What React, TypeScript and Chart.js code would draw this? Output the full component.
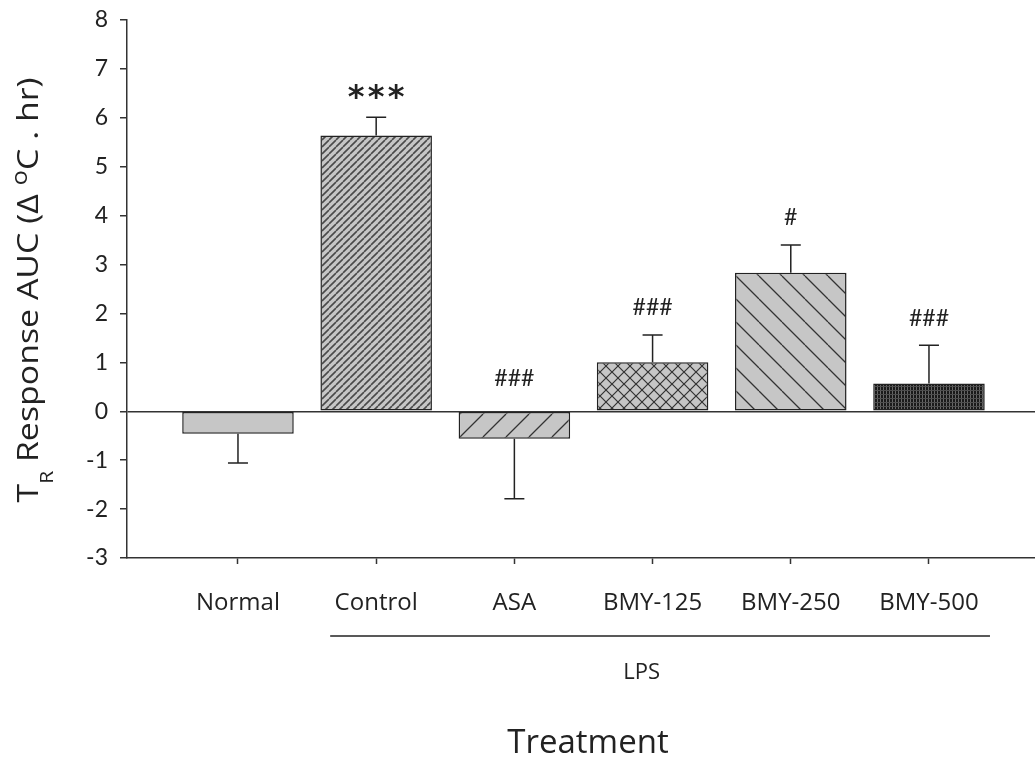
import { useEffect, useRef } from "react";
import { Chart, registerables } from "chart.js";

Chart.register(...registerables);

// Treatment groups and their mean body-temperature response (AUC) with one-sided SEM
const categories = ["Normal", "Control", "ASA", "BMY-125", "BMY-250", "BMY-500"];
const means = [-0.46, 5.64, -0.56, 1.0, 2.83, 0.57];
const errors = [0.6, 0.37, 1.23, 0.56, 0.57, 0.78];
const significance = ["", "***", "###", "###", "#", "###"];
const fillKinds = ["plain", "denseRising", "sparseRising", "crossHatch", "sparseFalling", "darkGrid"];
const yTickValues = [-3, -2, -1, 0, 1, 2, 3, 4, 5, 6, 7, 8];
const groupLabel = "LPS";
const xAxisTitle = "Treatment";

const W = 1035;
const H = 757;
const FONT = "'Open Sans', Lato, sans-serif";
const INK = "#222";
const BAR_FILL = "#c6c6c6";

function tile(size: number, draw: (g: CanvasRenderingContext2D, s: number) => void, bg = BAR_FILL) {
  const c = document.createElement("canvas");
  c.width = size;
  c.height = size;
  const g = c.getContext("2d")!;
  g.fillStyle = bg;
  g.fillRect(0, 0, size, size);
  draw(g, size);
  return c;
}

function rising(g: CanvasRenderingContext2D, s: number, color: string, w: number) {
  g.strokeStyle = color;
  g.lineWidth = w;
  g.beginPath();
  for (let k = -1; k <= 1; k++) {
    g.moveTo(k * s, s);
    g.lineTo(k * s + s, 0);
  }
  g.stroke();
}

function falling(g: CanvasRenderingContext2D, s: number, color: string, w: number) {
  g.strokeStyle = color;
  g.lineWidth = w;
  g.beginPath();
  for (let k = -1; k <= 1; k++) {
    g.moveTo(k * s, 0);
    g.lineTo(k * s + s, s);
  }
  g.stroke();
}

function makeFill(ctx: CanvasRenderingContext2D, kind: string): CanvasPattern | string {
  let c: HTMLCanvasElement | null = null;
  if (kind === "denseRising") c = tile(7, (g, s) => rising(g, s, "#4a4a4a", 1.6));
  else if (kind === "sparseRising") c = tile(23, (g, s) => rising(g, s, "#333", 1.3));
  else if (kind === "sparseFalling") c = tile(23, (g, s) => falling(g, s, "#333", 1.3));
  else if (kind === "crossHatch")
    c = tile(12, (g, s) => {
      rising(g, s, "#333", 1.2);
      falling(g, s, "#333", 1.2);
    });
  else if (kind === "darkGrid")
    c = tile(
      12,
      (g, s) => {
        g.fillStyle = "#666";
        for (let x = 1; x < s; x += 3) g.fillRect(x, 0, 1, s);
        g.fillStyle = "#4e4e4e";
        for (let y = 2; y < s; y += 4) g.fillRect(0, y, s, 1);
      },
      "#1a1a1a"
    );
  if (!c) return BAR_FILL;
  return ctx.createPattern(c, "repeat") || BAR_FILL;
}

// Error whiskers, significance marks, axis titles and the LPS bracket
const decorations = {
  id: "decorations",
  afterDatasetsDraw(chart: any) {
    const ctx: CanvasRenderingContext2D = chart.ctx;
    const ys = chart.scales.y;
    const meta = chart.getDatasetMeta(0);
    ctx.save();
    ctx.strokeStyle = INK;
    ctx.lineWidth = 1.5;
    meta.data.forEach((bar: any, i: number) => {
      const m = means[i];
      const e = errors[i];
      const end = m >= 0 ? m + e : m - e;
      const x = bar.x;
      const y0 = ys.getPixelForValue(m);
      const y1 = ys.getPixelForValue(end);
      ctx.beginPath();
      ctx.moveTo(x, y0);
      ctx.lineTo(x, y1);
      ctx.moveTo(x - 10, y1);
      ctx.lineTo(x + 10, y1);
      ctx.stroke();

      const mark = significance[i];
      if (mark) {
        const anchor = m >= 0 ? ys.getPixelForValue(m + e) - 27 : ys.getPixelForValue(0) - 33;
        ctx.fillStyle = INK;
        ctx.textAlign = "center";
        ctx.textBaseline = "middle";
        if (mark[0] === "*") {
          ctx.font = `bold 32px 'DejaVu Sans', sans-serif`;
          mark.split("").forEach((g, k) => {
            ctx.fillText(g, x + (k - (mark.length - 1) / 2) * 20, anchor + 8);
          });
        } else {
          ctx.font = `23px Lato, sans-serif`;
          ctx.fillText(mark, x, anchor);
        }
      }
    });
    ctx.restore();
  },
  afterDraw(chart: any) {
    const ctx: CanvasRenderingContext2D = chart.ctx;
    const xs = chart.scales.x;
    const area = chart.chartArea;
    ctx.save();
    ctx.fillStyle = INK;
    ctx.strokeStyle = INK;

    // LPS bracket under the treated groups
    const left = xs.getPixelForValue(2) - 46;
    const right = xs.getPixelForValue(6) + 61;
    const lineY = area.bottom + 78;
    ctx.lineWidth = 1.5;
    ctx.beginPath();
    ctx.moveTo(left, lineY);
    ctx.lineTo(right, lineY);
    ctx.stroke();
    ctx.font = `22px ${FONT}`;
    ctx.textAlign = "center";
    ctx.textBaseline = "middle";
    ctx.fillText(groupLabel, (xs.getPixelForValue(2) + xs.getPixelForValue(6)) / 2 - 11, area.bottom + 115);

    // x-axis title
    ctx.font = `33px ${FONT}`;
    ctx.fillText(xAxisTitle, 588, area.bottom + 186);

    // y-axis title with subscript and superscript, stretched along its run
    const big = `29px ${FONT}`;
    const small = `18px ${FONT}`;
    const sup = `22px ${FONT}`;
    const parts = [
      { t: "T", f: big, dy: 0 },
      { t: "R", f: small, dy: 15 },
      { t: " Response AUC (\u0394 ", f: big, dy: 0 },
      { t: "o", f: sup, dy: -11 },
      { t: "C . hr)", f: big, dy: 0 },
    ];
    let total = 0;
    const widths = parts.map((p) => {
      ctx.font = p.f;
      const w = ctx.measureText(p.t).width;
      total += w;
      return w;
    });
    const stretch = 425 / total;
    ctx.translate(38, (area.top + area.bottom) / 2 + 1);
    ctx.rotate(-Math.PI / 2);
    ctx.scale(stretch, 1);
    ctx.textAlign = "left";
    ctx.textBaseline = "alphabetic";
    let u = -total / 2;
    parts.forEach((p, i) => {
      ctx.font = p.f;
      ctx.fillText(p.t, u, p.dy);
      u += widths[i];
    });
    ctx.restore();
  },
};

export default function App() {
  const ref = useRef<HTMLCanvasElement>(null);

  useEffect(() => {
    const canvas = ref.current!;
    const ctx = canvas.getContext("2d")!;
    const fills = fillKinds.map((k) => makeFill(ctx, k));

    const chart = new Chart(canvas, {
      type: "bar",
      data: {
        datasets: [
          {
            data: categories.map((_, i) => ({ x: i + 1, y: means[i] })),
            backgroundColor: fills as any,
            borderColor: INK,
            borderWidth: 1.5,
            borderSkipped: false,
            categoryPercentage: 1,
            barPercentage: 0.807,
          },
        ],
      },
      options: {
        responsive: false,
        animation: false,
        layout: { padding: { top: 20, right: 0, left: 0, bottom: 0 } },
        plugins: { legend: { display: false }, tooltip: { enabled: false } },
        scales: {
          x: {
            type: "linear",
            offset: false,
            min: 0.197,
            max: 0.197 + 908 / 138.2,
            afterBuildTicks: (s: any) => {
              s.ticks = categories.map((_, i) => ({ value: i + 1 }));
            },
            afterFit: (s: any) => {
              s.height = 199;
              s.paddingLeft = 0;
              s.paddingRight = 0;
            },
            ticks: {
              autoSkip: false,
              maxRotation: 0,
              padding: 25,
              color: INK,
              font: { family: FONT, size: 24 },
              callback: (v: any) => categories[Math.round(Number(v)) - 1] ?? "",
            },
            grid: { offset: false, drawOnChartArea: false, drawTicks: true, tickLength: 6, tickColor: "#333", tickWidth: 1.5 },
            border: { display: true, color: "#333", width: 1.5 },
          },
          y: {
            min: -3,
            max: 8,
            afterFit: (s: any) => {
              s.width = 127;
              s.paddingTop = 0;
              s.paddingBottom = 0;
            },
            afterBuildTicks: (s: any) => {
              s.ticks = yTickValues.map((v) => ({ value: v }));
            },
            ticks: {
              padding: 12,
              color: INK,
              font: { family: "Lato, sans-serif", size: 23 },
            },
            grid: {
              color: (c: any) => (c.tick && c.tick.value === 0 ? "#333" : "rgba(0,0,0,0)"),
              lineWidth: 1.5,
              drawTicks: true,
              tickLength: 7,
              tickColor: "#333",
              tickWidth: 1.5,
            },
            border: { display: true, color: "#333", width: 1.5 },
          },
        },
      },
      plugins: [decorations],
    });
    return () => chart.destroy();
  }, []);

  return (
    <div style={{ position: "absolute", left: 0, top: 0, width: W, height: H, background: "#fff" }}>
      <canvas ref={ref} width={W} height={H} style={{ display: "block" }} />
    </div>
  );
}
